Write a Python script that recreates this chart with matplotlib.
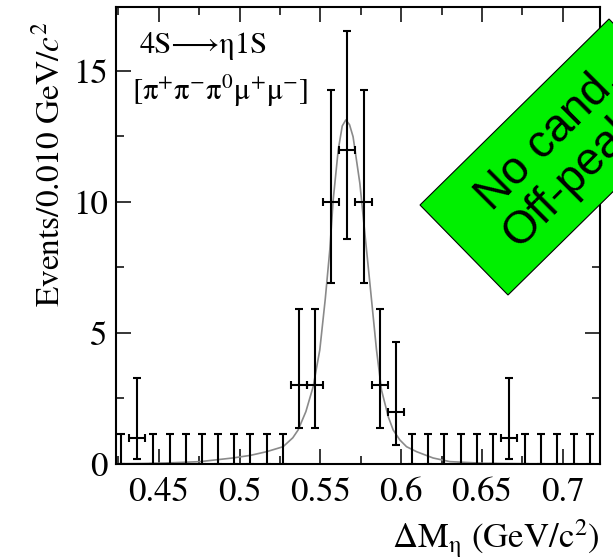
import matplotlib
matplotlib.use('Agg')

import matplotlib.pyplot as plt
from matplotlib.patches import Polygon
from matplotlib.ticker import MultipleLocator

plt.rcParams['font.family'] = ['STIXGeneral', 'DejaVu Serif']
plt.rcParams['mathtext.fontset'] = 'stix'

# bin centres (0.010 GeV/c^2 bins) and event counts
bin_centers = [0.4267, 0.4367, 0.4467, 0.4567, 0.4667, 0.4767, 0.4867, 0.4967,
               0.5067, 0.5167, 0.5267, 0.5367, 0.5467, 0.5567, 0.5667, 0.5767,
               0.5867, 0.5967, 0.6067, 0.6167, 0.6267, 0.6367, 0.6467, 0.6567,
               0.6667, 0.6767, 0.6867, 0.6967, 0.7067, 0.7167]
counts = [0, 1, 0, 0, 0, 0, 0, 0, 0, 0, 0, 3, 3, 10, 12, 10,
          3, 2, 0, 0, 0, 0, 0, 0, 1, 0, 0, 0, 0, 0]

# asymmetric poisson errors per count value
poisson_lo = {0: 0.0, 1: 0.827, 2: 1.291, 3: 1.633, 10: 3.108, 12: 3.415}
poisson_hi = {0: 1.148, 1: 2.299, 2: 2.638, 3: 2.918, 10: 4.266, 12: 4.531}

# fitted signal shape
fit_x = [0.4235, 0.440, 0.455, 0.4754, 0.4958, 0.5067, 0.5167, 0.5269, 0.5329,
         0.5362, 0.5410, 0.5455, 0.5496, 0.5530, 0.5558, 0.5579, 0.5610, 0.5635,
         0.5657, 0.5680, 0.5702, 0.5744, 0.5775, 0.5806, 0.5847, 0.5878, 0.5920,
         0.5950, 0.5991, 0.6033, 0.6095, 0.6197, 0.6301, 0.6505, 0.680, 0.723]
fit_y = [0.01, 0.02, 0.04, 0.09, 0.23, 0.33, 0.47, 0.66, 1.0,
         1.30, 2.0, 2.95, 4.35, 6.3, 8.17, 10.08, 11.98, 12.9,
         13.13, 12.95, 12.49, 10.71, 8.8, 6.9, 4.35, 2.82, 1.8,
         1.30, 0.92, 0.66, 0.47, 0.23, 0.09, 0.03, 0.01, 0.0]

fig = plt.figure(figsize=(6.13, 5.59), dpi=100)
ax = fig.add_axes([116 / 613, 95 / 559, 484 / 613, 457 / 559])

ax.plot(fit_x, fit_y, color='#8a8a8a', lw=1.2, zorder=2)

nz_x = [x for x, c in zip(bin_centers, counts) if c > 0]
nz_y = [c for c in counts if c > 0]
z_x = [x for x, c in zip(bin_centers, counts) if c == 0]
z_y = [c for c in counts if c == 0]

ax.errorbar(nz_x, nz_y,
            yerr=[[poisson_lo[c] for c in nz_y], [poisson_hi[c] for c in nz_y]],
            xerr=0.005, fmt='none', ecolor='black', elinewidth=1.5,
            capsize=3, capthick=1.5, zorder=3)
ax.errorbar(z_x, z_y,
            yerr=[[poisson_lo[c] for c in z_y], [poisson_hi[c] for c in z_y]],
            fmt='none', ecolor='black', elinewidth=1.5,
            capsize=3, capthick=1.5, zorder=3)

ax.set_xlim(0.4235, 0.723)
ax.set_ylim(0, 17.44)
ax.xaxis.set_major_locator(MultipleLocator(0.05))
ax.xaxis.set_minor_locator(MultipleLocator(0.025))
ax.yaxis.set_major_locator(MultipleLocator(5))
ax.yaxis.set_minor_locator(MultipleLocator(2.5))
ax.set_xticks([0.45, 0.5, 0.55, 0.6, 0.65, 0.7])
ax.set_xticklabels(['0.45', '0.5', '0.55', '0.6', '0.65', '0.7'])
ax.tick_params(which='both', direction='in', top=True, right=True,
               width=1.1, labelsize=25)
ax.tick_params(which='major', length=11)
ax.tick_params(which='minor', length=5.5)
ax.tick_params(axis='x', pad=9)
ax.tick_params(axis='y', pad=6)
for s in ax.spines.values():
    s.set_linewidth(1.5)

ax.text(0.4382, 15.69, '4S⟶η1S', fontsize=22, va='baseline')
ax.text(0.4333, 13.9, r'[π$^{+}$π$^{-}$π$^{0}$μ$^{+}$μ$^{-}$]', fontsize=22,
        va='baseline')

fig.text(50 / 613, 1 - 164 / 559, r'Events/0.010 GeV/$c^{2}$', rotation=90,
         ha='center', va='center', fontsize=24)
fig.text(600 / 613, 1 - 548 / 559, r'ΔM$_{\mathrm{η}}$ (GeV/c$^{2}$)',
         ha='right', va='baseline', fontsize=25)

# green "no candidates" stamp
over = fig.add_axes([0, 0, 1, 1], zorder=10)
over.set_xlim(0, 613)
over.set_ylim(559, 0)
over.axis('off')
over.add_patch(Polygon([(420, 205), (609, 19), (697, 109), (508, 295)],
                       closed=True, facecolor='#00f000', edgecolor='black',
                       lw=0.8))
over.text(491.7, 211.7, 'No cand.', rotation=45, rotation_mode='anchor',
          ha='left', va='baseline', fontsize=33, family='Liberation Sans')
over.text(519, 249.4, 'Off-peak', rotation=45, rotation_mode='anchor',
          ha='left', va='baseline', fontsize=33, family='Liberation Sans')

plt.savefig('out.png', dpi=100)
plt.close()
